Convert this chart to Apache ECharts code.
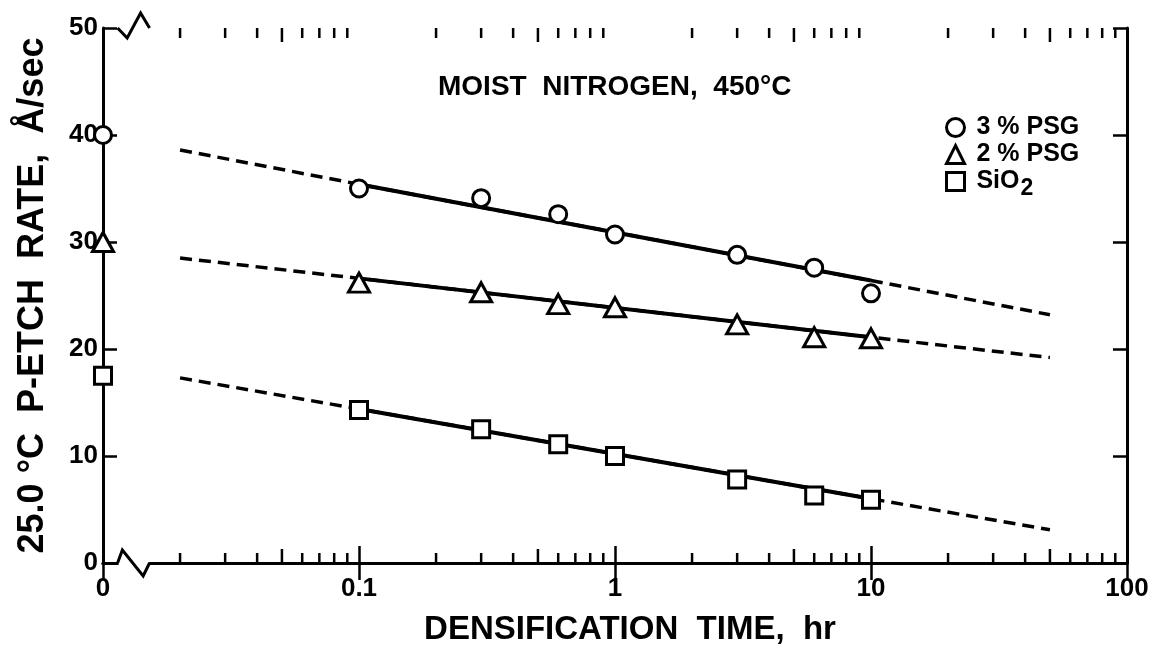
<!DOCTYPE html>
<html><head><meta charset="utf-8">
<script src="https://cdn.jsdelivr.net/npm/echarts@6/dist/echarts.min.js"></script>
<style>html,body{margin:0;padding:0;background:#fff}#c{width:1167px;height:650px}</style>
</head><body><div id="c"></div>
<script>
// ---- data ----
const times = [0.1, 0.3, 0.6, 1, 3, 6, 10];          // densification time, hr
const psg3 = [35.0, 34.1, 32.6, 30.7, 28.8, 27.6, 25.2];
const psg2 = [26.2, 25.3, 24.2, 23.9, 22.3, 21.1, 21.0];
const sio2 = [14.3, 12.5, 11.1, 10.0, 7.8, 6.3, 5.9];
const zeroTime = 0.01;                                // axis position labelled "0"
const zeroRates = [40, 30, 17.5];                     // 3% PSG, 2% PSG, SiO2 at t = 0
const fitTimes = [0.02, 0.1, 10, 50];
const psg3Fit = [38.6, 35.4, 26.4, 23.2];
const psg2Fit = [28.5, 26.6, 21.1, 19.2];
const sio2Fit = [17.3, 14.4, 6.0, 3.1];
const xTickLabels = ['0', '0.1', '1', '10', '100'];
const minorTicks = [0.02,0.03,0.04,0.05,0.06,0.07,0.08,0.09,
                    0.2,0.3,0.4,0.5,0.6,0.7,0.8,0.9,
                    2,3,4,5,6,7,8,9,
                    20,30,40,50,60,70,80,90];
const seriesNames = ['3 % PSG', '2 % PSG', 'SiO2'];

const FONT = 'Liberation Sans';
const Y_MIN = 0, Y_MAX = 50;
const BLACK = '#000';

const pair = (xs, ys) => xs.map((x, i) => [x, ys[i]]);

function markerSeries(name, symbol, size, ys, zeroRate) {
  return {
    type: 'scatter', name: name, symbol: symbol, symbolSize: size, clip: false, z: 5,
    itemStyle: { color: '#fff', borderColor: BLACK, borderWidth: 3, opacity: 1 },
    emphasis: { disabled: true },
    data: [[zeroTime, zeroRate]].concat(pair(times, ys))
  };
}
function fitSeries(ys) {
  return [
    { type: 'line', name: 'fitDash', symbol: 'none', z: 3, silent: true,
      lineStyle: { color: BLACK, width: 3.5, type: [12, 7] },
      data: pair(fitTimes, ys) },
    { type: 'line', name: 'fitSolid', symbol: 'none', z: 4, silent: true,
      lineStyle: { color: BLACK, width: 4 },
      data: pair(fitTimes.slice(1, 3), ys.slice(1, 3)) }
  ];
}

const chart = echarts.init(document.getElementById('c'), null, { renderer: 'canvas' });

const option = {
  backgroundColor: '#fff',
  animation: false,
  title: {
    text: 'MOIST  NITROGEN,  450°C', left: 433, top: 68,
    textStyle: { fontFamily: FONT, fontSize: 28, fontWeight: 'bold', color: BLACK }
  },
  legend: {
    orient: 'vertical', left: 940, top: 110, itemWidth: 18, itemHeight: 18, itemGap: 2,
    data: seriesNames,
    itemStyle: { color: '#fff', borderColor: BLACK, borderWidth: 3, opacity: 1 },
    formatter: n => n === 'SiO2' ? ' {t|SiO}{s|2}' : ' ' + n,
    textStyle: {
      fontFamily: FONT, fontSize: 25, fontWeight: 'bold', color: BLACK,
      rich: {
        t: { fontFamily: FONT, fontSize: 25, fontWeight: 'bold', color: BLACK },
        s: { fontFamily: FONT, fontSize: 23, fontWeight: 'bold', color: BLACK, padding: [14, 0, 0, 1] }
      }
    }
  },
  grid: { left: 103, right: 40, top: 28, bottom: 87, containLabel: false, outerBoundsMode: 'none' },
  xAxis: [
    {
      type: 'log', logBase: 10, min: 0.01, max: 100, position: 'bottom',
      name: 'DENSIFICATION  TIME,  hr', nameLocation: 'middle', nameGap: 50,
      nameTextStyle: { fontFamily: FONT, fontSize: 33, fontWeight: 'bold', color: BLACK, padding: [0, 0, 0, 30] },
      axisLine: { show: true, lineStyle: { color: BLACK, width: 3 } },
      axisTick: { show: true, inside: true, length: 17, lineStyle: { color: BLACK, width: 2.5 } },
      axisLabel: {
        margin: 13, fontFamily: FONT, fontSize: 26, fontWeight: 'bold', color: BLACK,
        formatter: v => xTickLabels[Math.round(Math.log10(v)) + 2]
      },
      splitLine: { show: false }, minorTick: { show: false }
    },
    {
      type: 'log', logBase: 10, min: 0.01, max: 100, position: 'top',
      axisLine: { show: true, lineStyle: { color: BLACK, width: 3 } },
      axisTick: { show: true, inside: true, length: 17, lineStyle: { color: BLACK, width: 2.5 } },
      axisLabel: { show: false }, splitLine: { show: false }
    }
  ],
  yAxis: [
    {
      type: 'value', min: Y_MIN, max: Y_MAX, interval: 10, position: 'left',
      name: '25.0 °C  P-ETCH  RATE,  Å/sec', nameLocation: 'middle', nameGap: 52, nameRotate: 90,
      nameTextStyle: { fontFamily: FONT, fontSize: 36, fontWeight: 'bold', color: BLACK, padding: [0, 0, 0, 0] },
      axisLine: { show: true, lineStyle: { color: BLACK, width: 3 } },
      axisTick: { show: true, inside: true, length: 14, lineStyle: { color: BLACK, width: 2.5 } },
      axisLabel: { margin: 5, fontFamily: FONT, fontSize: 26, fontWeight: 'bold', color: BLACK },
      splitLine: { show: false }
    },
    {
      type: 'value', min: Y_MIN, max: Y_MAX, interval: 10, position: 'right',
      axisLine: { show: true, lineStyle: { color: BLACK, width: 3 } },
      axisTick: { show: true, inside: true, length: 14, lineStyle: { color: BLACK, width: 2.5 } },
      axisLabel: { show: false }, splitLine: { show: false }
    }
  ],
  series: [
    // minor log ticks on bottom and top axes
    {
      type: 'custom', name: 'minorTicks', silent: true, z: 2, clip: false,
      data: minorTicks.map(v => [v, Y_MIN]), encode: { x: 0, y: 1 },
      renderItem: function (params, api) {
        const v = api.value(0);
        const b = api.coord([v, Y_MIN]);
        const t = api.coord([v, Y_MAX]);
        const mant = Math.round(v / Math.pow(10, Math.floor(Math.log10(v) + 1e-9)));
        const L = mant === 5 ? 14 : 10;
        const st = { stroke: BLACK, lineWidth: 2.5 };
        return { type: 'group', children: [
          { type: 'line', shape: { x1: b[0], y1: b[1], x2: b[0], y2: b[1] - L }, style: st },
          { type: 'line', shape: { x1: t[0], y1: t[1], x2: t[0], y2: t[1] + L }, style: st }
        ] };
      }
    },
    // axis-break zigzags near the "0" end of the time axis
    {
      type: 'custom', name: 'breaks', silent: true, z: 6, clip: false,
      data: [[0.0116, Y_MIN], [0.0116, Y_MAX]], encode: { x: 0, y: 1 },
      renderItem: function (params, api) {
        const yv = api.value(1);
        const p0 = api.coord([0.0114, yv]);
        const p1 = api.coord([0.0152, yv]);
        const x0 = p0[0], x1 = p1[0], y = p0[1], w = x1 - x0;
        const pts = yv === Y_MIN
          ? [[x0, y], [x0 + 0.15 * w, y - 13], [x0 + 0.8 * w, y + 13], [x1, y]]
          : [[x0, y], [x0 + 0.3 * w, y + 10], [x0 + 0.72 * w, y - 15], [x1, y]];
        return { type: 'group', children: [
          { type: 'line', shape: { x1: x0 + 1, y1: y, x2: x1 - 1, y2: y }, style: { stroke: '#fff', lineWidth: 6 } },
          { type: 'polyline', shape: { points: pts }, style: { stroke: BLACK, lineWidth: 3, fill: null } }
        ] };
      }
    },
    ...fitSeries(psg3Fit),
    ...fitSeries(psg2Fit),
    ...fitSeries(sio2Fit),
    markerSeries(seriesNames[0], 'circle', 17, psg3, zeroRates[0]),
    markerSeries(seriesNames[1], 'triangle', [21, 19], psg2, zeroRates[1]),
    markerSeries(seriesNames[2], 'rect', 17, sio2, zeroRates[2])
  ]
};
chart.setOption(option);
</script>
</body></html>
